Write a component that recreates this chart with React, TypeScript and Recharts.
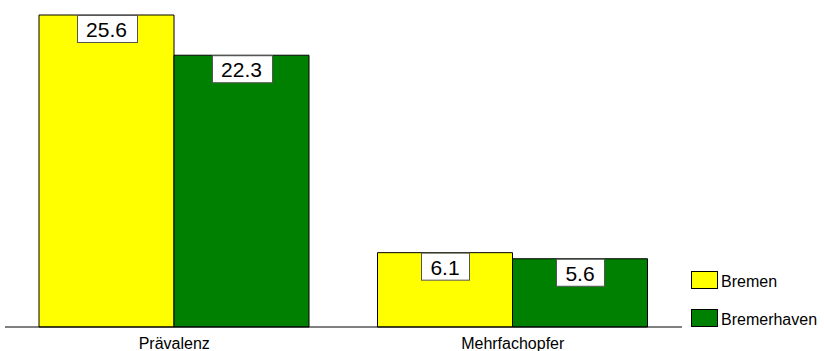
import { Bar, BarChart, XAxis, YAxis, LabelList } from "recharts"

const categories = ["Prävalenz", "Mehrfachopfer"]
const bremen = [25.6, 6.1]
const bremerhaven = [22.3, 5.6]

const seriesNames = ["Bremen", "Bremerhaven"]
const seriesColors = ["#ffff00", "#008000"]

const chartData = categories.map((cat, i) => ({
  kategorie: cat,
  bremen: bremen[i],
  bremerhaven: bremerhaven[i],
}))

const FONT = "'Liberation Sans', Arial, Helvetica, sans-serif"

// rough Arial advance widths for the value labels
function labelWidth(text: string, size: number) {
  let w = 0
  for (const ch of text) w += ch === "." ? 0.278 : 0.556
  return w * size
}

function ValueBox(props: any) {
  const { x, y, width, value } = props
  const text = Number(value).toFixed(1)
  const fontSize = 21
  const boxW = Math.round(labelWidth(text, fontSize) + 19)
  const boxH = 27
  const cx = x + width / 2
  return (
    <g>
      <rect
        x={Math.round(cx - boxW / 2) + 0.5}
        y={y + 0.5}
        width={boxW}
        height={boxH}
        fill="#fff"
        stroke="#555"
        strokeWidth={1}
      />
      <text x={cx} y={y + 22} textAnchor="middle" fontSize={fontSize} fill="#000" fontFamily={FONT}>
        {text}
      </text>
    </g>
  )
}

export default function App() {
  return (
    <div style={{ position: "fixed", left: 0, top: 0, width: 824, height: 351, fontFamily: FONT, background: "#fff" }}>
      <BarChart
        width={824}
        height={351}
        data={chartData}
        margin={{ top: 15, right: 142, left: 5, bottom: 0 }}
        barSize={135}
        barGap={0}
      >
        <XAxis
          dataKey="kategorie"
          height={24}
          tickLine={false}
          tickMargin={5}
          axisLine={{ stroke: "#000", strokeWidth: 1 }}
          tick={{ fontSize: 16, fill: "#000" }}
        />
        <YAxis hide domain={[0, 25.6]} />
        <Bar dataKey="bremen" fill={seriesColors[0]} stroke="#000" strokeWidth={1} isAnimationActive={false}>
          <LabelList dataKey="bremen" content={ValueBox} />
        </Bar>
        <Bar dataKey="bremerhaven" fill={seriesColors[1]} stroke="#000" strokeWidth={1} isAnimationActive={false}>
          <LabelList dataKey="bremerhaven" content={ValueBox} />
        </Bar>
      </BarChart>
      <div style={{ position: "absolute", left: 691, top: 271 }}>
        {seriesNames.map((name, i) => (
          <div key={name} style={{ display: "flex", alignItems: "center", height: 17, marginBottom: 21 }}>
            <div
              style={{
                width: 25,
                height: 16,
                background: seriesColors[i],
                border: "1px solid #000",
                marginRight: 3,
              }}
            />
            <span style={{ fontSize: 16, color: "#000", lineHeight: "17px", marginTop: 3 }}>{name}</span>
          </div>
        ))}
      </div>
    </div>
  )
}
